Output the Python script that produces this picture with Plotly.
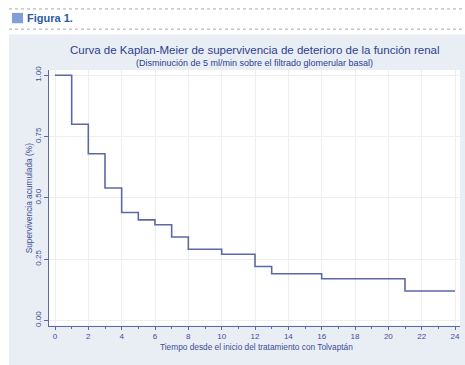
import plotly.graph_objects as go

# Data (Kaplan-Meier step curve)
times = [0, 1, 2, 3, 4, 5, 6, 7, 8, 10, 12, 13, 16, 21, 24]
survival = [1.00, 0.80, 0.68, 0.54, 0.44, 0.41, 0.39, 0.34, 0.29, 0.27, 0.22, 0.19, 0.17, 0.12, 0.12]
x_ticks = list(range(0, 25, 2))
y_ticks = [0.0, 0.25, 0.5, 0.75, 1.0]

W, H = 465, 365
LINE = "#5b69a6"
TXT = "#3c4f96"
TITLE = "#2d3f8e"
FONT = "Liberation Sans, Arial, sans-serif"

def px(x):
    return x / W

def py(y):
    return 1 - y / H

fig = go.Figure()
fig.add_trace(go.Scatter(
    x=times, y=survival, mode="lines", line=dict(shape="hv", color=LINE, width=1.6),
    hoverinfo="x+y", showlegend=False,
))

shapes = [
    dict(type="rect", xref="paper", yref="paper", x0=px(9), x1=px(466), y0=py(366), y1=py(31),
         fillcolor="#e9edf4", line=dict(width=0), layer="below"),
    dict(type="rect", xref="paper", yref="paper", x0=px(49), x1=px(460), y0=py(326), y1=py(67),
         fillcolor="white", line=dict(width=0), layer="below"),
    dict(type="line", xref="paper", yref="paper", x0=px(9), x1=px(466), y0=py(5), y1=py(5),
         line=dict(color="#a8a8a8", width=1, dash="dot")),
    dict(type="line", xref="paper", yref="paper", x0=px(9), x1=px(466), y0=py(25.5), y1=py(25.5),
         line=dict(color="#a8a8a8", width=1, dash="dot")),
    dict(type="rect", xref="paper", yref="paper", x0=px(12), x1=px(23), y0=py(19.5), y1=py(9),
         fillcolor="#7f9fd6", line=dict(width=0)),
]

annotations = [
    dict(text="<b>Figura 1.</b>", x=px(25), y=py(14.5), xref="paper", yref="paper",
         xanchor="left", yanchor="middle", showarrow=False,
         font=dict(family=FONT, size=11, color="#2a5aa8")),
    dict(text="Curva de Kaplan-Meier de supervivencia de deterioro de la función renal",
         x=px(255), y=py(47), xref="paper", yref="paper", xanchor="center", yanchor="middle",
         showarrow=False, font=dict(family=FONT, size=11.5, color=TITLE)),
    dict(text="(Disminución de 5 ml/min sobre el filtrado glomerular basal)",
         x=px(255), y=py(60), xref="paper", yref="paper", xanchor="center", yanchor="middle",
         showarrow=False, font=dict(family=FONT, size=9, color=TITLE)),
    dict(text="Tiempo desde el inicio del tratamiento con Tolvaptán",
         x=px(256), y=py(348), xref="paper", yref="paper", xanchor="center", yanchor="middle",
         showarrow=False, font=dict(family=FONT, size=8.3, color=TXT)),
    dict(text="Supervivencia acumulada (%)", textangle=-90,
         x=px(29), y=py(197), xref="paper", yref="paper", xanchor="center", yanchor="middle",
         showarrow=False, font=dict(family=FONT, size=8.3, color=TXT)),
]

fig.update_layout(
    width=W, height=H,
    margin=dict(l=0, r=0, t=0, b=0),
    paper_bgcolor="white", plot_bgcolor="rgba(0,0,0,0)",
    shapes=shapes, annotations=annotations,
    xaxis=dict(
        domain=[px(49), px(460)], range=[-0.36, 24.3],
        tickvals=x_ticks, ticktext=[str(v) for v in x_ticks],
        ticks="outside", ticklen=3, tickcolor=LINE, tickwidth=1,
        minor=dict(dtick=1, tick0=0, ticks="outside", ticklen=2, tickcolor=LINE, showgrid=False),
        showline=True, linecolor=LINE, linewidth=1,
        showgrid=True, gridcolor="#eeeeee", gridwidth=1, zeroline=False,
        tickfont=dict(family=FONT, size=8, color=TXT),
        fixedrange=True,
    ),
    yaxis=dict(
        domain=[1 - 326 / H, 1 - 67 / H], range=[-0.021, 1.021],
        tickvals=y_ticks, ticktext=[f"{v:.2f}" for v in y_ticks], tickangle=-90,
        ticks="outside", ticklen=4, tickcolor=LINE, tickwidth=1,
        showline=True, linecolor=LINE, linewidth=1,
        showgrid=True, gridcolor="#eeeeee", gridwidth=1, zeroline=False,
        tickfont=dict(family=FONT, size=8, color=TXT),
        fixedrange=True,
    ),
)

fig.write_html(
    "out.html",
    config={"displayModeBar": False, "staticPlot": False},
    post_script="document.body.style.margin='0';document.body.style.overflow='hidden';",
)
